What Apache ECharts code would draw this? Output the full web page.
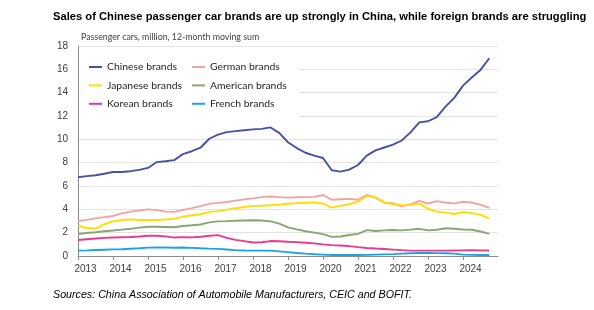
<!DOCTYPE html>
<html>
<head>
<meta charset="utf-8">
<script src="https://cdn.jsdelivr.net/npm/echarts@6/dist/echarts.min.js"></script>
<style>
    html, body { margin: 0; padding: 0; background: #fff; }
    #chart { width: 594px; height: 310px; }
</style>
</head>
<body>
<div id="chart"></div>
<script>
// quarterly readings, 12-month moving sum, million cars
var months = [
    '2013-01', '2013-04', '2013-07', '2013-10',
    '2014-01', '2014-04', '2014-07', '2014-10',
    '2015-01', '2015-04', '2015-07', '2015-10',
    '2016-01', '2016-04', '2016-07', '2016-10',
    '2017-01', '2017-04', '2017-07', '2017-10',
    '2018-01', '2018-04', '2018-07', '2018-10',
    '2019-01', '2019-04', '2019-07', '2019-10',
    '2020-01', '2020-04', '2020-07', '2020-10',
    '2021-01', '2021-04', '2021-07', '2021-10',
    '2022-01', '2022-04', '2022-07', '2022-10',
    '2023-01', '2023-04', '2023-07', '2023-10',
    '2024-01', '2024-04', '2024-07', '2024-10'
];
var chinese = [
    6.75, 6.85, 6.92, 7.05,  7.2, 7.2, 7.27, 7.38,  7.55, 8.05, 8.12, 8.22,
    8.74, 8.98, 9.28, 10.05,  10.4, 10.62, 10.7, 10.78,  10.85, 10.9, 11.02, 10.55,
    9.75, 9.25, 8.85, 8.6,  8.4, 7.35, 7.23, 7.4,  7.8, 8.6, 9.05, 9.3,
    9.55, 9.9, 10.6, 11.45,  11.55, 11.9, 12.8, 13.55,  14.6, 15.3, 15.95, 16.95
];
var german = [
    3.0, 3.1, 3.23, 3.33,  3.43, 3.65, 3.8, 3.9,  4.0, 3.93, 3.8, 3.78,
    3.95, 4.1, 4.27, 4.47,  4.55, 4.63, 4.75, 4.85,  4.94, 5.05, 5.1, 5.05,
    5.0, 5.03, 5.05, 5.07,  5.23, 4.82, 4.87, 4.9,  4.82, 5.23, 5.0, 4.57,
    4.52, 4.25, 4.43, 4.72,  4.5, 4.7, 4.57, 4.51,  4.65, 4.58, 4.4, 4.12
];
var japanese = [
    2.6, 2.4, 2.35, 2.72,  2.97, 3.09, 3.14, 3.09,  3.1, 3.09, 3.13, 3.2,
    3.37, 3.49, 3.58, 3.78,  3.85, 3.98, 4.09, 4.2,  4.3, 4.31, 4.35, 4.4,
    4.48, 4.53, 4.57, 4.6,  4.5, 4.15, 4.3, 4.45,  4.65, 5.15, 5.05, 4.6,
    4.43, 4.35, 4.38, 4.5,  4.05, 3.8, 3.72, 3.6,  3.77, 3.68, 3.55, 3.2
];
var american = [
    1.89, 1.97, 2.03, 2.12,  2.18, 2.26, 2.33, 2.43,  2.51, 2.51, 2.49, 2.47,
    2.57, 2.63, 2.7, 2.88,  2.97, 2.99, 3.02, 3.04,  3.06, 3.04, 2.97, 2.77,
    2.46, 2.28, 2.12, 2.0,  1.88, 1.64, 1.67, 1.8,  1.9, 2.22, 2.14, 2.2,
    2.23, 2.2, 2.26, 2.33,  2.2, 2.25, 2.38, 2.33,  2.27, 2.25, 2.1, 1.9
];
var korean = [
    1.37, 1.44, 1.5, 1.55,  1.59, 1.61, 1.63, 1.67,  1.73, 1.74, 1.68, 1.58,
    1.62, 1.6, 1.65, 1.74,  1.79, 1.55, 1.38, 1.27,  1.16, 1.18, 1.28, 1.26,
    1.22, 1.19, 1.14, 1.08,  1.0, 0.93, 0.9, 0.85,  0.76, 0.69, 0.64, 0.6,
    0.55, 0.5, 0.46, 0.46,  0.46, 0.46, 0.46, 0.47,  0.48, 0.49, 0.48, 0.47
];
var french = [
    0.46, 0.48, 0.51, 0.54,  0.57, 0.58, 0.62, 0.66,  0.72, 0.74, 0.73, 0.71,
    0.73, 0.7, 0.66, 0.63,  0.61, 0.56, 0.5, 0.47,  0.46, 0.46, 0.46, 0.4,
    0.33, 0.26, 0.2, 0.15,  0.12, 0.09, 0.08, 0.08,  0.08, 0.1, 0.12, 0.14,
    0.16, 0.2, 0.24, 0.26,  0.26, 0.25, 0.24, 0.2,  0.12, 0.1, 0.09, 0.09
];
var yearTicks = [2013, 2014, 2015, 2016, 2017, 2018, 2019, 2020, 2021, 2022, 2023, 2024];

var brands = [
    {name: 'Chinese brands', data: chinese, color: '#4851a3'},
    {name: 'German brands', data: german, color: '#f4a3a3'},
    {name: 'Japanese brands', data: japanese, color: '#ffdd00'},
    {name: 'American brands', data: american, color: '#88a574'},
    {name: 'Korean brands', data: korean, color: '#e93a8c'},
    {name: 'French brands', data: french, color: '#1ea2e6'}
];

// 'YYYY-MM' -> decimal year
function toYear(m) {
    var p = m.split('-');
    return parseInt(p[0], 10) + (parseInt(p[1], 10) - 1) / 12;
}

var chart = echarts.init(document.getElementById('chart'));

var series = [];
brands.forEach(function (b) {
    series.push({
        name: b.name,
        type: 'line',
        symbol: 'none',
        smooth: false,
        color: b.color,
        lineStyle: {width: 1.9, color: b.color},
        data: b.data.map(function (v, i) { return [toYear(months[i]), v]; })
    });
});

var legendText = {fontFamily: 'Lato', fontSize: 10.4, color: '#262626', lineHeight: 14};

chart.setOption({
    animation: false,
    backgroundColor: '#fff',
    title: [{
        text: 'Sales of Chinese passenger car brands are up strongly in China, while foreign brands are struggling',
        left: 53, top: 11, padding: 0,
        textStyle: {fontFamily: 'Liberation Sans', fontSize: 11.2, fontWeight: 'bold', color: '#000'}
    }, {
        text: 'Passenger cars, million, 12-month moving sum',
        left: 81, top: 33, padding: 0,
        textStyle: {fontFamily: 'Lato', fontSize: 8.8, fontWeight: 'normal', color: '#404040'}
    }, {
        text: 'Sources: China Association of Automobile Manufacturers, CEIC and BOFIT.',
        left: 53, top: 290, padding: 0,
        textStyle: {fontFamily: 'Liberation Sans', fontSize: 10.7, fontWeight: 'normal', fontStyle: 'italic', color: '#000'}
    }],
    legend: [{
        data: ['Chinese brands', 'Japanese brands', 'Korean brands'],
        orient: 'vertical', left: 79, top: 55,
        padding: [5, 13, 8, 10],
        backgroundColor: '#fff',
        icon: 'rect', itemWidth: 13, itemHeight: 2, itemGap: 4.4,
        textStyle: legendText
    }, {
        data: ['German brands', 'American brands', 'French brands'],
        orient: 'vertical', left: 189, top: 55,
        padding: [5, 12, 8, 3],
        backgroundColor: '#fff',
        icon: 'rect', itemWidth: 13, itemHeight: 2, itemGap: 4.4,
        textStyle: legendText
    }],
    grid: {left: 78, right: 96, top: 46, bottom: 54},
    xAxis: {
        type: 'value',
        min: 2013, max: 2025, interval: 1,
        axisLine: {lineStyle: {color: '#8c8c8c', width: 1}},
        axisTick: {show: true, length: 4, lineStyle: {color: '#8c8c8c'}},
        splitLine: {show: false},
        axisLabel: {
            fontFamily: 'Liberation Sans', fontSize: 10, color: '#404040',
            margin: 8, padding: [0, 0, 0, 15], showMaxLabel: false,
            formatter: function (v) { return yearTicks.indexOf(v) >= 0 ? String(v) : ''; }
        }
    },
    yAxis: {
        type: 'value',
        min: 0, max: 18, interval: 2,
        axisLine: {show: true, lineStyle: {color: '#8c8c8c', width: 1}},
        axisTick: {show: false},
        splitLine: {lineStyle: {color: '#e3e3e3', width: 1}},
        axisLabel: {fontFamily: 'Liberation Sans', fontSize: 10, color: '#404040', margin: 10}
    },
    series: series
});
</script>
</body>
</html>
